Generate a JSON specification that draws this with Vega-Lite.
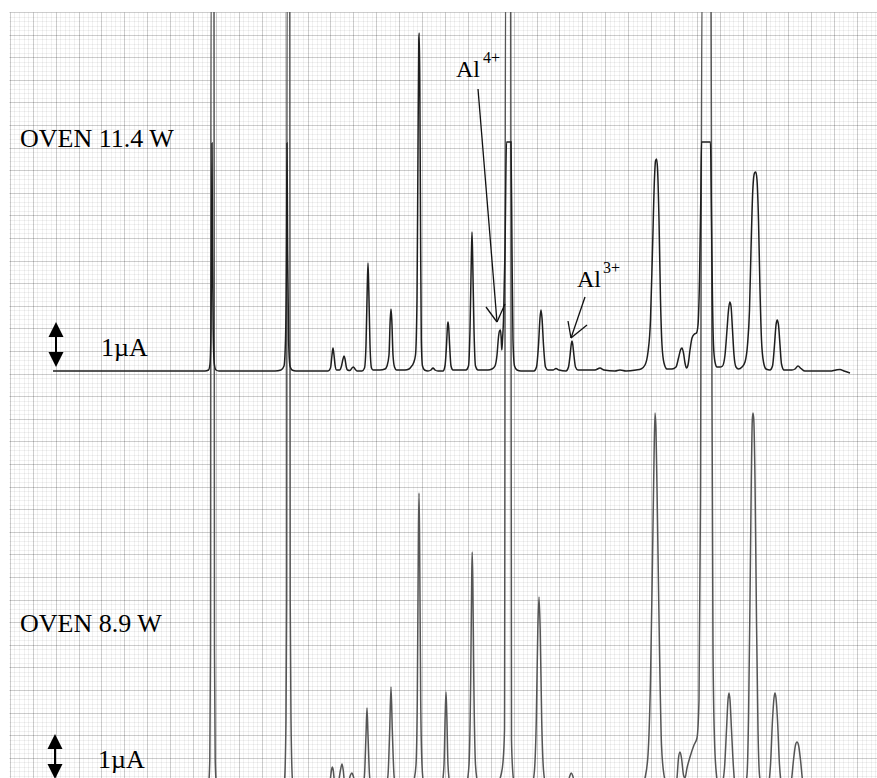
{
  "$schema": "https://vega.github.io/schema/vega-lite/v6.json",
  "width": 868,
  "height": 766,
  "autosize": {"type": "none"},
  "padding": {"left": 9, "top": 12, "right": 0, "bottom": 0},
  "background": "white",
  "config": {"view": {"stroke": null}, "axis": {"domain": false, "ticks": false, "labels": false, "title": null}},
  "datasets": {
    "top": [
      {"x":53,"y":371},{"x":150,"y":371},{"x":205,"y":371},{"x":208.5,"y":370},{"x":210,"y":364},{"x":211,"y":330},{"x":211.6,"y":250},{"x":212,"y":143},{"x":212.5,"y":250},{"x":213.2,"y":330},{"x":214.3,"y":364},{"x":216,"y":370},{"x":219,"y":371},
      {"x":275,"y":371},{"x":281,"y":370},{"x":284,"y":366},{"x":285.5,"y":340},{"x":286.5,"y":250},{"x":287,"y":143},{"x":287.6,"y":250},{"x":288.6,"y":340},{"x":290,"y":366},{"x":292,"y":370},{"x":296,"y":371},
      {"x":328,"y":371},{"x":330.5,"y":368},{"x":332,"y":355},{"x":333,"y":348},{"x":334,"y":355},{"x":335.2,"y":366},{"x":336.5,"y":370},{"x":339.5,"y":370},{"x":341.5,"y":366},{"x":343,"y":359},{"x":344,"y":356},{"x":345,"y":359},{"x":346.3,"y":367},{"x":347.5,"y":370},
      {"x":350,"y":370.5},{"x":352,"y":368},{"x":353.5,"y":367},{"x":355,"y":369},{"x":357,"y":371},
      {"x":362,"y":371},{"x":364.5,"y":368},{"x":366,"y":345},{"x":367.2,"y":290},{"x":368,"y":263},{"x":368.8,"y":290},{"x":370,"y":345},{"x":371.5,"y":368},{"x":373,"y":370},
      {"x":380,"y":370},{"x":385,"y":369},{"x":387,"y":366},{"x":389,"y":355},{"x":390.2,"y":320},{"x":391,"y":309},{"x":391.8,"y":320},{"x":393,"y":355},{"x":394.5,"y":367},{"x":396.5,"y":370},
      {"x":405,"y":370},{"x":409,"y":369},{"x":411,"y":367},{"x":413.5,"y":363},{"x":415.5,"y":355},{"x":417,"y":300},{"x":418,"y":150},{"x":418.8,"y":40},{"x":419.2,"y":33},{"x":419.8,"y":80},{"x":420.5,"y":220},{"x":421.3,"y":340},{"x":422.5,"y":366},{"x":424.5,"y":370},
      {"x":428,"y":371},{"x":431,"y":370},{"x":433,"y":368},{"x":435,"y":370},{"x":438,"y":371},
      {"x":443,"y":371},{"x":445,"y":366},{"x":446.5,"y":345},{"x":447.5,"y":326},{"x":448,"y":322},{"x":448.6,"y":326},{"x":449.6,"y":345},{"x":451,"y":366},{"x":453,"y":370},
      {"x":466,"y":370},{"x":468.5,"y":366},{"x":470,"y":330},{"x":471.3,"y":260},{"x":472,"y":232},{"x":472.7,"y":260},{"x":474,"y":330},{"x":475.5,"y":366},{"x":478,"y":370},
      {"x":488,"y":370},{"x":492,"y":369},{"x":495,"y":366},{"x":497,"y":355},{"x":498.5,"y":337},{"x":499.5,"y":331},{"x":500.5,"y":330},{"x":501.2,"y":338},{"x":501.8,"y":350},{"x":502.5,"y":340},{"x":503.5,"y":320},{"x":505,"y":250},{"x":506.5,"y":142},{"x":511,"y":142},{"x":512,"y":250},{"x":513,"y":340},{"x":514.5,"y":366},{"x":517,"y":370},{"x":521,"y":371},
      {"x":534,"y":371},{"x":536.5,"y":367},{"x":538.5,"y":345},{"x":540,"y":318},{"x":541,"y":310},{"x":542,"y":318},{"x":543.5,"y":345},{"x":545.5,"y":367},{"x":548,"y":370},{"x":553,"y":370},{"x":556,"y":368.5},{"x":559,"y":370},
      {"x":566,"y":371},{"x":568.5,"y":367},{"x":570,"y":356},{"x":571.3,"y":344},{"x":572,"y":341},{"x":572.7,"y":344},{"x":574,"y":356},{"x":575.5,"y":367},{"x":578,"y":370},{"x":595,"y":370},{"x":600,"y":368},{"x":604,"y":370},{"x":615,"y":371},{"x":620,"y":370},{"x":626,"y":371},{"x":636,"y":370},
      {"x":641,"y":369},{"x":645,"y":365},{"x":648,"y":352},{"x":650.5,"y":320},{"x":652.5,"y":250},{"x":654.5,"y":178},{"x":655.5,"y":161},{"x":656.5,"y":159},{"x":657.5,"y":168},{"x":659,"y":220},{"x":660.5,"y":300},{"x":662,"y":345},{"x":664,"y":363},{"x":667,"y":369},
      {"x":672,"y":369},{"x":676,"y":367},{"x":678.5,"y":358},{"x":680.5,"y":350},{"x":682,"y":348},{"x":683.5,"y":353},{"x":685,"y":363},{"x":686.5,"y":368},{"x":688,"y":365},{"x":690,"y":350},{"x":692,"y":338},{"x":694.5,"y":334},{"x":696.5,"y":333},{"x":698,"y":325},{"x":699.5,"y":280},{"x":700.8,"y":200},{"x":701.5,"y":142},{"x":710.5,"y":142},{"x":711.5,"y":220},{"x":712.5,"y":300},{"x":713.5,"y":345},{"x":715,"y":362},{"x":717,"y":367},{"x":720,"y":367},
      {"x":722.5,"y":366},{"x":725,"y":355},{"x":727,"y":330},{"x":728.5,"y":310},{"x":729.8,"y":302},{"x":731,"y":306},{"x":732.5,"y":330},{"x":734,"y":355},{"x":736,"y":367},{"x":738.5,"y":369},
      {"x":742,"y":367},{"x":745,"y":362},{"x":747.5,"y":345},{"x":749.5,"y":310},{"x":751,"y":250},{"x":752.8,"y":190},{"x":754.5,"y":173},{"x":755.8,"y":172},{"x":757,"y":180},{"x":758.5,"y":220},{"x":760,"y":290},{"x":761.5,"y":340},{"x":763.5,"y":362},{"x":766,"y":369},
      {"x":770,"y":370},{"x":772.5,"y":366},{"x":774.5,"y":345},{"x":776,"y":325},{"x":777.2,"y":320},{"x":778.5,"y":325},{"x":780,"y":345},{"x":781.5,"y":364},{"x":784,"y":370},
      {"x":792,"y":370},{"x":795,"y":369},{"x":798,"y":366},{"x":801,"y":368.5},{"x":805,"y":371},{"x":830,"y":371},{"x":836,"y":370},{"x":840,"y":369.5},{"x":844,"y":371},{"x":850,"y":373}
    ],
    "bottom": [
      {"x":53,"y":792},{"x":200,"y":792},{"x":206,"y":791},{"x":208.5,"y":785},{"x":209.8,"y":760},{"x":210.5,"y":650},{"x":211,"y":-10},{"x":214,"y":-10},{"x":214.5,"y":650},{"x":215.2,"y":760},{"x":216.5,"y":785},{"x":219,"y":791},{"x":225,"y":792},
      {"x":278,"y":792},{"x":282,"y":790},{"x":284.5,"y":780},{"x":286,"y":720},{"x":286.7,"y":600},{"x":287,"y":-10},{"x":289.8,"y":-10},{"x":290.2,"y":600},{"x":291,"y":720},{"x":292.5,"y":780},{"x":295,"y":790},{"x":300,"y":792},
      {"x":327,"y":792},{"x":330,"y":782},{"x":331.5,"y":770},{"x":332.3,"y":767},{"x":333.2,"y":770},{"x":334.5,"y":782},{"x":336,"y":787},{"x":338.5,"y":782},{"x":340.5,"y":770},{"x":342,"y":764},{"x":343.2,"y":770},{"x":344.5,"y":782},{"x":346.5,"y":786},{"x":348.5,"y":782},{"x":350.5,"y":775},{"x":352,"y":773},{"x":353.5,"y":777},{"x":356,"y":788},{"x":360,"y":792},
      {"x":362.5,"y":789},{"x":364.5,"y":775},{"x":366,"y":735},{"x":367,"y":708},{"x":368,"y":735},{"x":369.5,"y":775},{"x":371.5,"y":789},{"x":375,"y":792},
      {"x":383,"y":791},{"x":386,"y":786},{"x":388,"y":775},{"x":389.7,"y":730},{"x":391,"y":687},{"x":392.3,"y":730},{"x":394,"y":775},{"x":396,"y":788},{"x":400,"y":792},
      {"x":407,"y":791},{"x":411,"y":787},{"x":414,"y":780},{"x":416,"y":765},{"x":417.3,"y":700},{"x":418.4,"y":540},{"x":419,"y":493},{"x":419.6,"y":540},{"x":420.7,"y":700},{"x":422,"y":765},{"x":423.5,"y":783},{"x":426,"y":790},{"x":430,"y":792},
      {"x":439,"y":792},{"x":442,"y":785},{"x":444,"y":765},{"x":445.2,"y":715},{"x":446,"y":692},{"x":446.8,"y":715},{"x":448,"y":765},{"x":450,"y":785},{"x":453,"y":792},
      {"x":463,"y":792},{"x":466.5,"y":785},{"x":469,"y":765},{"x":470.7,"y":680},{"x":471.7,"y":580},{"x":472.2,"y":552},{"x":472.8,"y":580},{"x":473.8,"y":680},{"x":475.5,"y":765},{"x":478,"y":785},{"x":481,"y":792},
      {"x":490,"y":792},{"x":494,"y":789},{"x":498,"y":783},{"x":501,"y":775},{"x":503,"y":762},{"x":504.5,"y":730},{"x":505.5,"y":-10},{"x":510.7,"y":-10},{"x":511.5,"y":740},{"x":513,"y":775},{"x":515,"y":787},{"x":518,"y":792},
      {"x":528,"y":792},{"x":532,"y":786},{"x":534.5,"y":770},{"x":536.3,"y":720},{"x":537.8,"y":630},{"x":539,"y":597},{"x":540.2,"y":630},{"x":541.7,"y":720},{"x":543.5,"y":770},{"x":546,"y":786},{"x":550,"y":792},
      {"x":564,"y":792},{"x":567.5,"y":785},{"x":569.8,"y":776},{"x":571.2,"y":773},{"x":572.8,"y":776},{"x":575,"y":785},{"x":579,"y":792},
      {"x":636,"y":792},{"x":641,"y":788},{"x":645,"y":778},{"x":648,"y":755},{"x":650.5,"y":680},{"x":652.5,"y":560},{"x":654,"y":460},{"x":655,"y":413},{"x":656,"y":430},{"x":657.5,"y":520},{"x":659.5,"y":650},{"x":661.5,"y":745},{"x":664,"y":775},{"x":667,"y":785},{"x":671,"y":789},
      {"x":675,"y":788},{"x":677,"y":778},{"x":678.5,"y":758},{"x":680,"y":752},{"x":681.5,"y":758},{"x":683.5,"y":775},{"x":685,"y":778},{"x":687,"y":768},{"x":690,"y":757},{"x":694,"y":745},{"x":697,"y":738},{"x":699,"y":700},{"x":700.5,"y":500},{"x":702,"y":-10},{"x":711,"y":-10},{"x":712,"y":400},{"x":713,"y":650},{"x":714.5,"y":740},{"x":716.5,"y":775},{"x":719,"y":788},
      {"x":722,"y":784},{"x":724.5,"y":768},{"x":726.5,"y":730},{"x":728,"y":700},{"x":729,"y":693},{"x":730,"y":700},{"x":731.5,"y":730},{"x":733.5,"y":768},{"x":735,"y":785},{"x":738,"y":790},
      {"x":742,"y":789},{"x":745,"y":786},{"x":747,"y":775},{"x":748.5,"y":720},{"x":750,"y":600},{"x":751.3,"y":480},{"x":752.3,"y":420},{"x":753,"y":413},{"x":753.8,"y":420},{"x":755,"y":480},{"x":756.5,"y":620},{"x":758,"y":730},{"x":759.5,"y":775},{"x":761.5,"y":786},{"x":765,"y":789},
      {"x":768.5,"y":784},{"x":770.5,"y":765},{"x":772.5,"y":720},{"x":774,"y":698},{"x":775,"y":693},{"x":776,"y":698},{"x":777.5,"y":720},{"x":779.5,"y":765},{"x":781.5,"y":784},{"x":785,"y":790},
      {"x":789,"y":789},{"x":791.5,"y":780},{"x":793.5,"y":760},{"x":795.5,"y":745},{"x":797,"y":742},{"x":798.5,"y":745},{"x":800.5,"y":760},{"x":802.5,"y":780},{"x":805,"y":790},{"x":812,"y":792},{"x":850,"y":792}
    ],
    "biglabels": [
      {"x":20,"y":147,"text":"OVEN 11.4 W"},
      {"x":101,"y":356,"text":"1µA"},
      {"x":20,"y":632,"text":"OVEN 8.9 W"},
      {"x":98,"y":768,"text":"1µA"}
    ],
    "ions": [
      {"x":456,"y":77,"text":"Al"},
      {"x":577,"y":287,"text":"Al"}
    ],
    "sups": [
      {"x":483,"y":63,"text":"4+"},
      {"x":603,"y":273,"text":"3+"}
    ],
    "pointers": [
      {"x":478,"y":89,"x2":497,"y2":322},
      {"x":497,"y":322,"x2":486,"y2":307},
      {"x":497,"y":322,"x2":505,"y2":304},
      {"x":585,"y":297,"x2":571,"y2":338},
      {"x":571,"y":338,"x2":568,"y2":321},
      {"x":571,"y":338,"x2":587,"y2":325}
    ],
    "shafts": [
      {"x":56,"y":335,"x2":56,"y2":354},
      {"x":55,"y":747,"x2":55,"y2":766}
    ],
    "heads": [
      {"x":56,"y":329.5,"dir":"up"},
      {"x":56,"y":359.5,"dir":"down"},
      {"x":55,"y":741.5,"dir":"up"},
      {"x":55,"y":771.5,"dir":"down"}
    ]
  },
  "resolve": {"axis": {"x": "independent", "y": "independent"}},
  "layer": [
    {
      "data": {"name": "biglabels"},
      "mark": {"type": "text", "font": "Liberation Serif", "fontSize": 26, "align": "left", "baseline": "alphabetic", "color": "#000"},
      "encoding": {
        "x": {"field": "x", "type": "quantitative", "scale": {"domain": [9, 877], "nice": false, "zero": false},
          "axis": {"grid": true, "gridColor": "#000", "gridOpacity": 0.055, "gridWidth": 1, "domain": false, "ticks": false, "labels": false, "title": null,
            "values": [9.8,14.4,19.0,23.5,28.1,32.7,37.3,41.9,46.4,51.0,55.6,60.2,64.8,69.3,73.9,78.5,83.1,87.7,92.2,96.8,101.4,106.0,110.6,115.1,119.7,124.3,128.9,133.5,138.0,142.6,147.2,151.8,156.4,160.9,165.5,170.1,174.7,179.3,183.8,188.4,193.0,197.6,202.2,206.7,211.3,215.9,220.5,225.1,229.6,234.2,238.8,243.4,248.0,252.5,257.1,261.7,266.3,270.9,275.4,280.0,284.6,289.2,293.8,298.3,302.9,307.5,312.1,316.7,321.2,325.8,330.4,335.0,339.6,344.1,348.7,353.3,357.9,362.5,367.0,371.6,376.2,380.8,385.4,389.9,394.5,399.1,403.7,408.3,412.8,417.4,422.0,426.6,431.2,435.7,440.3,444.9,449.5,454.1,458.6,463.2,467.8,472.4,477.0,481.5,486.1,490.7,495.3,499.9,504.4,509.0,513.6,518.2,522.8,527.3,531.9,536.5,541.1,545.7,550.2,554.8,559.4,564.0,568.6,573.1,577.7,582.3,586.9,591.5,596.0,600.6,605.2,609.8,614.4,618.9,623.5,628.1,632.7,637.3,641.8,646.4,651.0,655.6,660.2,664.7,669.3,673.9,678.5,683.1,687.6,692.2,696.8,701.4,706.0,710.5,715.1,719.7,724.3,728.9,733.4,738.0,742.6,747.2,751.8,756.3,760.9,765.5,770.1,774.7,779.2,783.8,788.4,793.0,797.6,802.1,806.7,811.3,815.9,820.5,825.0,829.6,834.2,838.8,843.4,847.9,852.5,857.1,861.7,866.3,870.8,875.4]}},
        "y": {"field": "y", "type": "quantitative", "scale": {"domain": [778, 12], "nice": false, "zero": false},
          "axis": {"grid": true, "gridColor": "#000", "gridOpacity": 0.055, "gridWidth": 1, "domain": false, "ticks": false, "labels": false, "title": null,
            "values": [12,16.5,21.0,25.6,30.1,34.6,39.1,43.6,48.2,52.7,57.2,61.7,66.2,70.8,75.3,79.8,84.3,88.8,93.4,97.9,102.4,106.9,111.4,116.0,120.5,125,129.5,134.0,138.6,143.1,147.6,152.1,156.6,161.2,165.7,170.2,174.7,179.2,183.8,188.3,192.8,197.3,201.8,206.4,210.9,215.4,219.9,224.4,229.0,233.5,238,242.5,247.0,251.6,256.1,260.6,265.1,269.6,274.2,278.7,283.2,287.7,292.2,296.8,301.3,305.8,310.3,314.8,319.4,323.9,328.4,332.9,337.4,342.0,346.5,351,355.5,360.0,364.6,369.1,373.6,378.1,382.6,387.2,391.7,396.2,400.7,405.2,409.8,414.3,418.8,423.3,427.8,432.4,436.9,441.4,445.9,450.4,455.0,459.5,464,468.5,473.0,477.6,482.1,486.6,491.1,495.6,500.2,504.7,509.2,513.7,518.2,522.8,527.3,531.8,536.3,540.8,545.4,549.9,554.4,558.9,563.4,568.0,572.5,577,581.5,586.0,590.6,595.1,599.6,604.1,608.6,613.2,617.7,622.2,626.7,631.2,635.8,640.3,644.8,649.3,653.8,658.4,662.9,667.4,671.9,676.4,681.0,685.5,690,694.5,699.0,703.6,708.1,712.6,717.1,721.6,726.2,730.7,735.2,739.7,744.2,748.8,753.3,757.8,762.3,766.8,771.4,775.9]}},
        "text": {"field": "text", "type": "nominal"}
      }
    },
    {
      "data": {"name": "bottom"},
      "mark": {"type": "line", "interpolate": "monotone", "clip": true, "color": "#555555", "strokeWidth": 1.5},
      "encoding": {
        "x": {"field": "x", "type": "quantitative", "scale": {"domain": [9, 877], "nice": false, "zero": false},
          "axis": {"grid": true, "gridColor": "#000", "gridOpacity": 0.15, "gridWidth": 1, "domain": false, "ticks": false, "labels": false, "title": null,
            "values": [9.8,32.7,55.6,78.5,101.4,124.3,147.2,170.1,193.0,215.9,238.8,261.7,284.6,307.5,330.4,353.3,376.2,399.1,422.0,444.9,467.8,490.7,513.6,536.5,559.4,582.3,605.2,628.1,651.0,673.9,696.8,719.7,742.6,765.5,788.4,811.3,834.2,857.1]}},
        "y": {"field": "y", "type": "quantitative", "scale": {"domain": [778, 12], "nice": false, "zero": false},
          "axis": {"grid": true, "gridColor": "#000", "gridOpacity": 0.15, "gridWidth": 1, "domain": false, "ticks": false, "labels": false, "title": null,
            "values": [12,34.6,57.2,79.8,102.4,125,147.6,170.2,192.8,215.4,238,260.6,283.2,305.8,328.4,351,373.6,396.2,418.8,441.4,464,486.6,509.2,531.8,554.4,577,599.6,622.2,644.8,667.4,690,712.6,735.2,757.8]}}
      }
    },
    {
      "data": {"name": "top"},
      "mark": {"type": "line", "interpolate": "monotone", "clip": true, "color": "#1e1e1e", "strokeWidth": 1.5},
      "encoding": {
        "x": {"field": "x", "type": "quantitative", "scale": {"domain": [9, 877], "nice": false, "zero": false}, "axis": null},
        "y": {"field": "y", "type": "quantitative", "scale": {"domain": [778, 12], "nice": false, "zero": false}, "axis": null}
      }
    },
    {
      "data": {"name": "ions"},
      "mark": {"type": "text", "font": "Liberation Serif", "fontSize": 24, "align": "left", "baseline": "alphabetic", "color": "#000"},
      "encoding": {
        "x": {"field": "x", "type": "quantitative", "scale": {"domain": [9, 877], "nice": false, "zero": false}, "axis": null},
        "y": {"field": "y", "type": "quantitative", "scale": {"domain": [778, 12], "nice": false, "zero": false}, "axis": null},
        "text": {"field": "text", "type": "nominal"}
      }
    },
    {
      "data": {"name": "sups"},
      "mark": {"type": "text", "font": "Liberation Serif", "fontSize": 16, "align": "left", "baseline": "alphabetic", "color": "#000"},
      "encoding": {
        "x": {"field": "x", "type": "quantitative", "scale": {"domain": [9, 877], "nice": false, "zero": false}, "axis": null},
        "y": {"field": "y", "type": "quantitative", "scale": {"domain": [778, 12], "nice": false, "zero": false}, "axis": null},
        "text": {"field": "text", "type": "nominal"}
      }
    },
    {
      "data": {"name": "pointers"},
      "mark": {"type": "rule", "color": "#111", "strokeWidth": 1.3},
      "encoding": {
        "x": {"field": "x", "type": "quantitative", "scale": {"domain": [9, 877], "nice": false, "zero": false}, "axis": null},
        "y": {"field": "y", "type": "quantitative", "scale": {"domain": [778, 12], "nice": false, "zero": false}, "axis": null},
        "x2": {"field": "x2"},
        "y2": {"field": "y2"}
      }
    },
    {
      "data": {"name": "shafts"},
      "mark": {"type": "rule", "color": "#000", "strokeWidth": 2},
      "encoding": {
        "x": {"field": "x", "type": "quantitative", "scale": {"domain": [9, 877], "nice": false, "zero": false}, "axis": null},
        "y": {"field": "y", "type": "quantitative", "scale": {"domain": [778, 12], "nice": false, "zero": false}, "axis": null},
        "x2": {"field": "x2"},
        "y2": {"field": "y2"}
      }
    },
    {
      "data": {"name": "heads"},
      "mark": {"type": "point", "filled": true, "color": "#000", "opacity": 1, "size": 225, "strokeWidth": 0},
      "encoding": {
        "x": {"field": "x", "type": "quantitative", "scale": {"domain": [9, 877], "nice": false, "zero": false}, "axis": null},
        "y": {"field": "y", "type": "quantitative", "scale": {"domain": [778, 12], "nice": false, "zero": false}, "axis": null},
        "shape": {"field": "dir", "type": "nominal", "scale": {"domain": ["up", "down"], "range": ["M0,-1L1,1L-1,1Z", "M-1,-1L1,-1L0,1Z"]}, "legend": null}
      }
    }
  ]
}
